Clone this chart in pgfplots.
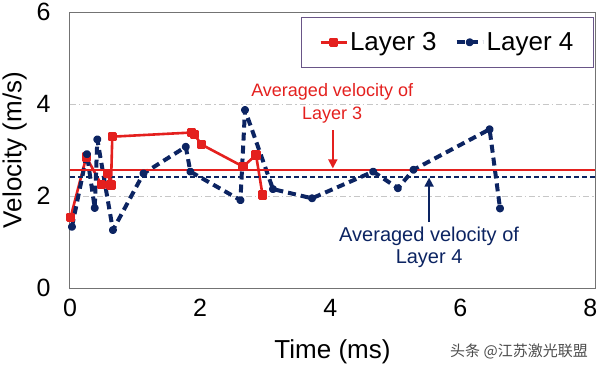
\documentclass[border=0pt]{standalone}
\usepackage{pgfplots}
\pgfplotsset{compat=1.18}
\usetikzlibrary{arrows.meta}
\usepackage{fontspec}
\setmainfont{Liberation Sans}
\newfontfamily\cjk{Noto Sans CJK SC}
\definecolor{lred}{RGB}{228,32,30}
\definecolor{lnavy}{RGB}{12,36,98}
\definecolor{legbord}{RGB}{105,85,135}
\begin{document}
\begin{tikzpicture}
\path[use as bounding box] (-70pt,-80pt) rectangle (530pt,288pt);
\begin{axis}[
  at={(0pt,0pt)}, anchor=south west,
  scale only axis, width=525pt, height=276pt,
  xmin=0, xmax=8.07, ymin=0, ymax=6,
  xtick={0,2,4,6,8}, ytick={0,2,4,6},
  major tick length=0pt,
  axis line style={draw=black!55, line width=1pt},
  ymajorgrids,
  grid style={dash pattern=on 6pt off 3pt on 1.5pt off 3pt, black!22, line width=0.8pt},
  /pgf/number format/assume math mode=true,
  ticklabel style={font=\fontsize{25}{25}\selectfont},
  xticklabel style={yshift=-8pt},
  yticklabel style={xshift=-16pt},
  xlabel={Time (ms)}, ylabel={Velocity (m/s)},
  label style={font=\fontsize{26}{26}\selectfont},
  xlabel style={yshift=-16pt},
  ylabel style={yshift=3pt},
  legend columns=2,
  legend style={at={(rel axis cs:0.998,0.982)}, anchor=north east,
    draw=legbord, line width=1pt, font=\fontsize{26}{26}\selectfont,
    inner xsep=18pt, inner ysep=13pt,
    /tikz/every even column/.append style={column sep=16pt}},
  legend image code/.code={\draw[#1] (0pt,0pt) -- (13pt,0pt) plot coordinates {(13pt,0pt)} -- (26pt,0pt);},
]
\addplot[lred, line width=2.6pt, line join=round, mark=square*, mark size=3.3pt, mark options={solid}]
coordinates {
(0.01,1.54) (0.25,2.85) (0.48,2.25) (0.58,2.49) (0.63,2.24) (0.65,3.29)
(1.87,3.38) (1.91,3.34) (2.02,3.12) (2.66,2.64) (2.86,2.89) (2.96,2.02)
};
\addlegendentry{Layer 3}
\addplot[lnavy, line width=4pt, line join=round, dash pattern=on 8pt off 5pt, mark=*, mark size=2pt, mark options={solid}]
coordinates {
(0.03,1.33) (0.26,2.91) (0.38,1.74) (0.42,3.23) (0.66,1.26) (1.13,2.49)
(1.78,3.07) (1.85,2.53) (2.62,1.91) (2.69,3.87) (3.12,2.15) (3.72,1.95)
(4.66,2.53) (5.04,2.17) (5.28,2.57) (6.45,3.45) (6.61,1.73)
};
\addlegendentry{Layer 4}
\addplot[lred, line width=1.5pt, forget plot] coordinates {(0,2.57) (8.07,2.57)};
\addplot[lnavy, line width=1.8pt, dash pattern=on 5pt off 3pt, forget plot] coordinates {(0,2.41) (8.07,2.41)};
\node[lred, align=center, font=\fontsize{18}{23}\selectfont] at (axis cs:4.03,4.01) {Averaged velocity of\\Layer 3};
\draw[lred, line width=1.8pt, -{Triangle[length=9pt,width=9pt]}] (axis cs:4.04,3.43) -- (axis cs:4.04,2.60);
\node[lnavy, align=center, font=\fontsize{20}{22}\selectfont] at (axis cs:5.52,0.89) {Averaged velocity of\\Layer 4};
\draw[lnavy, line width=1.8pt, -{Triangle[length=9pt,width=9pt]}] (axis cs:5.52,1.43) -- (axis cs:5.52,2.40);
\end{axis}
\node[black!70, font=\cjk\fontsize{15}{15}\selectfont] at (449pt,-63.7pt) {头条 @江苏激光联盟};
\end{tikzpicture}
\end{document}
